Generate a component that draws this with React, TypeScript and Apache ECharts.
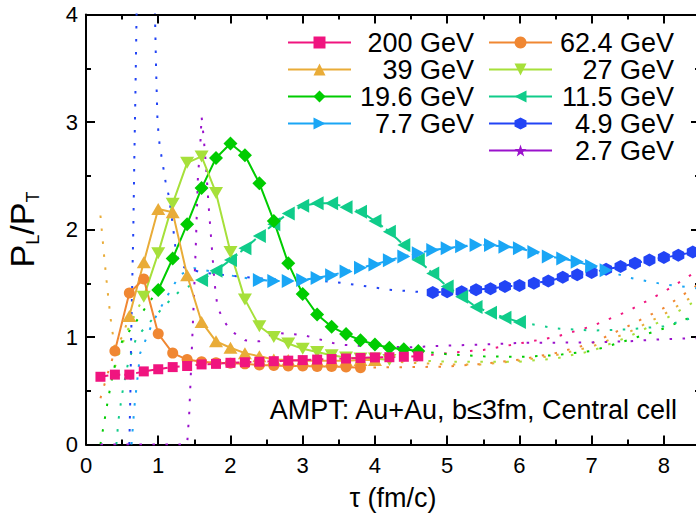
import React, { useEffect, useRef } from "react";
import * as echarts from "echarts";

const FONT = "'Liberation Sans', Arial, Helvetica, sans-serif";

// axis tick labels
const xTickLabels = ["0", "1", "2", "3", "4", "5", "6", "7", "8"];
const yTickLabels = ["0", "1", "2", "3", "4"];

// legend columns (names)
const legendLeft = ["200 GeV", "39 GeV", "19.6 GeV", "7.7 GeV"];
const legendRight = ["62.4 GeV", "27 GeV", "11.5 GeV", "4.9 GeV", "2.7 GeV"];

// ---- marker data (tau in fm/c, P_L/P_T) ----
const tau200 = [0.2, 0.4, 0.6, 0.8, 1.0, 1.2, 1.4, 1.6, 1.8, 2.0, 2.2, 2.4, 2.6, 2.8, 3.0, 3.2, 3.4, 3.6, 3.8, 4.0, 4.2, 4.4, 4.6];
const ratio200 = [0.63, 0.65, 0.65, 0.68, 0.70, 0.72, 0.73, 0.745, 0.75, 0.76, 0.765, 0.77, 0.775, 0.78, 0.785, 0.79, 0.795, 0.80, 0.805, 0.81, 0.812, 0.816, 0.82];

const tau62 = [0.4, 0.6, 0.8, 1.0, 1.2, 1.4, 1.6, 1.8, 2.0, 2.2, 2.4, 2.6, 2.8, 3.0, 3.2, 3.4, 3.6, 3.8];
const ratio62 = [0.87, 1.41, 1.54, 1.03, 0.85, 0.79, 0.77, 0.76, 0.755, 0.75, 0.74, 0.735, 0.73, 0.73, 0.725, 0.725, 0.72, 0.715];

const tau39 = [0.6, 0.8, 1.0, 1.2, 1.4, 1.6, 1.8, 2.0, 2.2, 2.4, 2.6, 2.8, 3.0, 3.2, 3.4, 3.6, 3.8, 4.0];
const ratio39 = [1.195, 1.695, 2.19, 2.16, 1.575, 1.14, 0.96, 0.9, 0.85, 0.82, 0.79, 0.785, 0.78, 0.78, 0.78, 0.78, 0.785, 0.785];

const tau27 = [0.8, 1.0, 1.2, 1.4, 1.6, 1.8, 2.0, 2.2, 2.4, 2.6, 2.8, 3.0, 3.2, 3.4, 3.6, 3.8, 4.0, 4.2];
const ratio27 = [1.375, 1.78, 2.24, 2.62, 2.68, 2.34, 1.79, 1.35, 1.1, 1.0, 0.94, 0.89, 0.86, 0.83, 0.81, 0.8, 0.8, 0.785];

const tau196 = [1.0, 1.2, 1.4, 1.6, 1.8, 2.0, 2.2, 2.4, 2.6, 2.8, 3.0, 3.2, 3.4, 3.6, 3.8, 4.0, 4.2, 4.4, 4.6];
const ratio196 = [1.437, 1.73, 2.05, 2.385, 2.665, 2.8, 2.69, 2.43, 2.08, 1.685, 1.4, 1.21, 1.095, 1.027, 0.97, 0.93, 0.9, 0.887, 0.87];

const tau115 = [1.6, 1.8, 2.0, 2.2, 2.4, 2.6, 2.8, 3.0, 3.2, 3.4, 3.6, 3.8, 4.0, 4.2, 4.4, 4.6, 4.8, 5.0, 5.2, 5.4, 5.6, 5.8, 6.0];
const ratio115 = [1.53, 1.617, 1.716, 1.825, 1.94, 2.05, 2.15, 2.22, 2.245, 2.245, 2.207, 2.166, 2.08, 1.98, 1.855, 1.716, 1.59, 1.47, 1.375, 1.28, 1.225, 1.18, 1.14];

const tau77 = [2.4, 2.6, 2.8, 3.0, 3.2, 3.4, 3.6, 3.8, 4.0, 4.2, 4.4, 4.6, 4.8, 5.0, 5.2, 5.4, 5.6, 5.8, 6.0, 6.2, 6.4, 6.6, 6.8, 7.0, 7.2];
const ratio77 = [1.53, 1.52, 1.52, 1.53, 1.55, 1.575, 1.61, 1.645, 1.675, 1.715, 1.75, 1.78, 1.81, 1.825, 1.845, 1.855, 1.855, 1.84, 1.825, 1.79, 1.75, 1.73, 1.7, 1.66, 1.62];

const tau49 = [4.8, 5.0, 5.2, 5.4, 5.6, 5.8, 6.0, 6.2, 6.4, 6.6, 6.8, 7.0, 7.2, 7.4, 7.6, 7.8, 8.0, 8.2, 8.4];
const ratio49 = [1.415, 1.42, 1.42, 1.44, 1.45, 1.47, 1.48, 1.5, 1.52, 1.555, 1.58, 1.6, 1.63, 1.655, 1.685, 1.716, 1.74, 1.76, 1.79];

// ---- dotted continuations [tau, P_L/P_T] ----
const tail200R = [[4.6, 0.82], [5.0, 0.85], [5.5, 0.88], [6.0, 0.94], [6.5, 1.0], [7.0, 1.1], [7.5, 1.24], [8.0, 1.42], [8.5, 1.63]];
const tail62L = [[0.2, 0.43], [0.3, 0.66], [0.4, 0.87]];
const tail62R = [[3.8, 0.715], [4.5, 0.72], [5.0, 0.725], [5.5, 0.75], [6.0, 0.79], [6.5, 0.85], [7.0, 0.94], [7.5, 1.1], [8.0, 1.27], [8.5, 1.5]];
const tail39L = [[0.2, 2.13], [0.25, 1.76], [0.3, 1.42], [0.35, 1.12], [0.4, 0.9], [0.5, 1.0], [0.6, 1.195]];
const tail39R = [[4.0, 0.785], [4.5, 0.76], [5.0, 0.745], [5.5, 0.745], [6.0, 0.78], [6.5, 0.83], [7.0, 0.91], [7.5, 1.04], [8.0, 1.21], [8.5, 1.42]];
const tail27L = [[0.4, 0.72], [0.5, 0.93], [0.6, 1.1], [0.7, 1.24], [0.8, 1.375]];
const tail27R = [[4.2, 0.785], [4.6, 0.78], [5.0, 0.77], [5.5, 0.77], [6.0, 0.77], [6.5, 0.8], [7.0, 0.87], [7.5, 1.0], [8.0, 1.16], [8.5, 1.36]];
const tail196L = [[0.2, 0.0], [0.25, 0.2], [0.3, 0.4], [0.35, 0.58], [0.42, 0.8], [0.5, 0.96], [0.7, 1.15], [0.85, 1.3], [1.0, 1.437]];
const tail196R = [[4.6, 0.87], [5.0, 0.84], [5.5, 0.82], [6.0, 0.815], [6.5, 0.83], [7.0, 0.87], [7.5, 0.97], [8.0, 1.08], [8.5, 1.22]];
const tail115L = [[0.42, 0.0], [0.45, 0.23], [0.5, 0.47], [0.58, 0.75], [0.7, 1.0], [0.9, 1.15], [1.1, 1.3], [1.3, 1.43], [1.6, 1.53]];
const tail115R = [[6.0, 1.14], [6.5, 1.08], [7.0, 1.06], [7.5, 1.07], [8.0, 1.1], [8.5, 1.2]];
const tail77L = [[0.63, 0.0], [0.67, 0.35], [0.75, 0.85], [0.92, 1.13], [1.08, 1.33], [1.3, 1.58], [1.5, 1.64], [1.8, 1.6], [2.1, 1.56], [2.4, 1.53]];
const tail77R = [[7.2, 1.62], [7.5, 1.555], [8.0, 1.49], [8.5, 1.45]];
const tail49L = [[0.6, 0.0], [0.615, 0.5], [0.625, 1.0], [0.64, 1.5], [0.655, 2.0], [0.67, 2.7], [0.685, 3.3], [0.7, 4.0], [0.72, 4.6], [0.94, 4.6], [0.955, 4.0], [0.97, 3.5], [0.99, 3.0], [1.02, 2.78], [1.06, 2.62], [1.1, 2.45], [1.15, 2.3], [1.2, 2.05], [1.24, 1.82], [1.3, 1.66], [1.6, 1.6], [2.0, 1.57], [2.5, 1.54], [3.0, 1.53], [3.4, 1.515], [3.8, 1.48], [4.2, 1.44], [4.6, 1.42], [4.8, 1.415]];
const curve27 = [[0.2, 0.0], [1.4, 0.0], [1.43, 0.3], [1.46, 0.8], [1.49, 1.3], [1.52, 1.85], [1.55, 2.5], [1.58, 2.75], [1.6, 3.05], [1.63, 2.85], [1.66, 2.6], [1.7, 2.2], [1.74, 1.85], [1.78, 1.5], [1.82, 1.28], [1.9, 1.16], [2.0, 1.06], [2.2, 0.97], [2.4, 0.96], [2.6, 1.04], [3.0, 1.02], [3.5, 0.93], [4.0, 0.91], [4.5, 0.905], [5.0, 0.92], [5.5, 0.93], [6.0, 0.945], [7.0, 0.95], [7.5, 0.96], [8.0, 0.98], [8.5, 0.99]];

// colours
const C200 = "#F0147F";
const C62 = "#F08732";
const C39 = "#E9AC38";
const C27 = "#A6E03A";
const C196 = "#00CC00";
const C115 = "#10CC8A";
const C77 = "#1AA6F5";
const C49 = "#2244F5";
const C27G = "#9A12CC";

// symbols
const DOWN_TRI = "path://M0,0 L12,0 L6,11 Z";
const LEFT_TRI = "path://M11,0 L11,12 L0,6 Z";
const RIGHT_TRI = "path://M0,0 L11,6 L0,12 Z";
const HEXAGON = "path://M5,0 L10,3 L10,9 L5,12 L0,9 L0,3 Z";
const STAR = "path://M10,0 L12.35,6.76 L19.51,6.91 L13.8,11.24 L15.88,18.09 L10,14 L4.12,18.09 L6.2,11.24 L0.49,6.91 L7.65,6.76 Z";

const DOT: number[] = [2.5, 10.5];

function pairs(t: number[], v: number[]) {
  return t.map((x, i) => [x, v[i]]);
}

function markerSeries(name: string, color: string, t: number[], v: number[], symbol: string, size: any, lineType: any) {
  return {
    type: "line",
    name,
    data: pairs(t, v),
    symbol,
    symbolSize: size,
    showSymbol: true,
    lineStyle: { color, width: 2, type: lineType },
    itemStyle: { color },
    z: 3,
    xAxisIndex: 0,
    yAxisIndex: 0,
    emphasis: { disabled: true },
  };
}

function dottedSeries(name: string, color: string, data: number[][], symbol = "none") {
  return {
    type: "line",
    name,
    data,
    symbol,
    showSymbol: false,
    lineStyle: { color, width: 2, type: DOT },
    itemStyle: { color },
    z: 2,
    xAxisIndex: 0,
    yAxisIndex: 0,
    emphasis: { disabled: true },
  };
}

const axisColor = "#000";

export default function App() {
  const ref = useRef<HTMLDivElement>(null);
  useEffect(() => {
    if (!ref.current) return;
    const chart = echarts.init(ref.current, undefined, { renderer: "svg" });

    const baseX = {
      type: "value",
      min: 0,
      max: 8.5,
      splitLine: { show: false },
      axisLine: { show: true, onZero: false, lineStyle: { color: axisColor, width: 2 } },
      axisLabel: { show: false },
    };
    const baseY = {
      type: "value",
      min: 0,
      max: 4,
      interval: 1,
      splitLine: { show: false },
      axisLine: { show: true, onZero: false, lineStyle: { color: axisColor, width: 2 } },
      axisTick: { show: true, inside: true, length: 9, lineStyle: { color: axisColor, width: 2 } },
      minorTick: { show: true, splitNumber: 2, length: 5, lineStyle: { color: axisColor, width: 2 } },
      axisLabel: { show: false },
    };

    const legendCommon = {
      orient: "vertical",
      top: 29,
      itemWidth: 63,
      itemHeight: 15,
      itemGap: 0,
      padding: 0,
      selectedMode: false,
      lineStyle: { type: "solid", width: 2 },
    };

    const option: any = {
      animation: false,
      grid: { left: 86, top: 14.5, width: 614, height: 430, containLabel: false, outerBoundsMode: "none" },
      xAxis: [
        {
          ...baseX,
          position: "bottom",
          interval: 1,
          axisTick: { show: true, inside: true, length: 9, lineStyle: { color: axisColor, width: 2 } },
          axisLabel: {
            show: true,
            margin: 10,
            fontSize: 22,
            fontFamily: FONT,
            color: "#000",
            formatter: (v: number) => (Number.isInteger(v) && xTickLabels[v] !== undefined ? xTickLabels[v] : ""),
          },
          name: "τ (fm/c)",
          nameLocation: "middle",
          nameGap: 40,
          nameTextStyle: { fontSize: 27, fontFamily: FONT, color: "#000" },
        },
        {
          ...baseX,
          position: "bottom",
          interval: 0.5,
          axisLine: { show: false, onZero: false },
          axisTick: { show: true, inside: true, length: 5, lineStyle: { color: axisColor, width: 2 } },
        },
        {
          ...baseX,
          position: "top",
          interval: 1,
          axisTick: { show: true, inside: true, length: 9, lineStyle: { color: axisColor, width: 2 } },
        },
        {
          ...baseX,
          position: "top",
          interval: 0.5,
          axisLine: { show: false, onZero: false },
          axisTick: { show: true, inside: true, length: 5, lineStyle: { color: axisColor, width: 2 } },
        },
      ],
      yAxis: [
        {
          ...baseY,
          position: "left",
          axisLabel: {
            show: true,
            margin: 8,
            fontSize: 22,
            fontFamily: FONT,
            color: "#000",
            formatter: (v: number) => (Number.isInteger(v) && yTickLabels[v] !== undefined ? yTickLabels[v] : ""),
          },
          name: "{p|P}{s|L}{p|/P}{s|T}",
          nameLocation: "middle",
          nameRotate: 90,
          nameGap: 44,
          nameTextStyle: {
            fontFamily: FONT,
            color: "#000",
            rich: {
              p: { fontSize: 34, fontFamily: FONT, color: "#000", lineHeight: 40, verticalAlign: "middle" },
              s: { fontSize: 18, fontFamily: FONT, color: "#000", lineHeight: 18, padding: [21, 0, 0, 0], verticalAlign: "middle" },
            },
          },
        },
        { ...baseY, position: "right" },
      ],
      legend: [
        {
          ...legendCommon,
          left: 287,
          data: legendLeft,
          formatter: (n: string) => `{a|${n}}`,
          textStyle: {
            rich: { a: { fontSize: 27, fontFamily: FONT, color: "#000", width: 118, align: "right", lineHeight: 34 } },
          },
        },
        {
          ...legendCommon,
          left: 488,
          data: legendRight,
          formatter: (n: string) => `{a|${n}}`,
          textStyle: {
            rich: { a: { fontSize: 27, fontFamily: FONT, color: "#000", width: 117, align: "right", lineHeight: 34 } },
          },
        },
      ],
      graphic: [
        {
          type: "text",
          x: 677,
          y: 410,
          style: {
            text: "AMPT: Au+Au, b≤3fm, Central cell",
            fontSize: 27,
            fontFamily: FONT,
            fill: "#000",
            align: "right",
            verticalAlign: "middle",
          },
          z: 10,
        },
      ],
      series: [
        // dotted continuations (behind)
        dottedSeries("200 tail", C200, tail200R),
        dottedSeries("62.4 left", C62, tail62L),
        dottedSeries("62.4 tail", C62, tail62R),
        dottedSeries("39 left", C39, tail39L),
        dottedSeries("39 tail", C39, tail39R),
        dottedSeries("27 left", C27, tail27L),
        dottedSeries("27 tail", C27, tail27R),
        dottedSeries("19.6 left", C196, tail196L),
        dottedSeries("19.6 tail", C196, tail196R),
        dottedSeries("11.5 left", C115, tail115L),
        dottedSeries("11.5 tail", C115, tail115R),
        dottedSeries("7.7 left", C77, tail77L),
        dottedSeries("7.7 tail", C77, tail77R),
        dottedSeries("4.9 left", C49, tail49L),
        dottedSeries("2.7 GeV", C27G, curve27, STAR),
        // marker series
        markerSeries("4.9 GeV", C49, tau49, ratio49, HEXAGON, [12, 13], "dashed"),
        markerSeries("7.7 GeV", C77, tau77, ratio77, RIGHT_TRI, [13, 14], "dashed"),
        markerSeries("11.5 GeV", C115, tau115, ratio115, LEFT_TRI, [13, 14], "dashed"),
        markerSeries("19.6 GeV", C196, tau196, ratio196, "diamond", [14, 14], "solid"),
        markerSeries("27 GeV", C27, tau27, ratio27, DOWN_TRI, [14, 12], "solid"),
        markerSeries("39 GeV", C39, tau39, ratio39, "triangle", [14, 12], "solid"),
        markerSeries("62.4 GeV", C62, tau62, ratio62, "circle", 11, "solid"),
        markerSeries("200 GeV", C200, tau200, ratio200, "rect", 10, "dashed"),
      ],
    };

    chart.setOption(option);
    return () => {
      chart.dispose();
    };
  }, []);

  return (
    <div
      ref={ref}
      style={{ position: "absolute", left: 0, top: 0, width: 696, height: 520, background: "#fff" }}
    />
  );
}
